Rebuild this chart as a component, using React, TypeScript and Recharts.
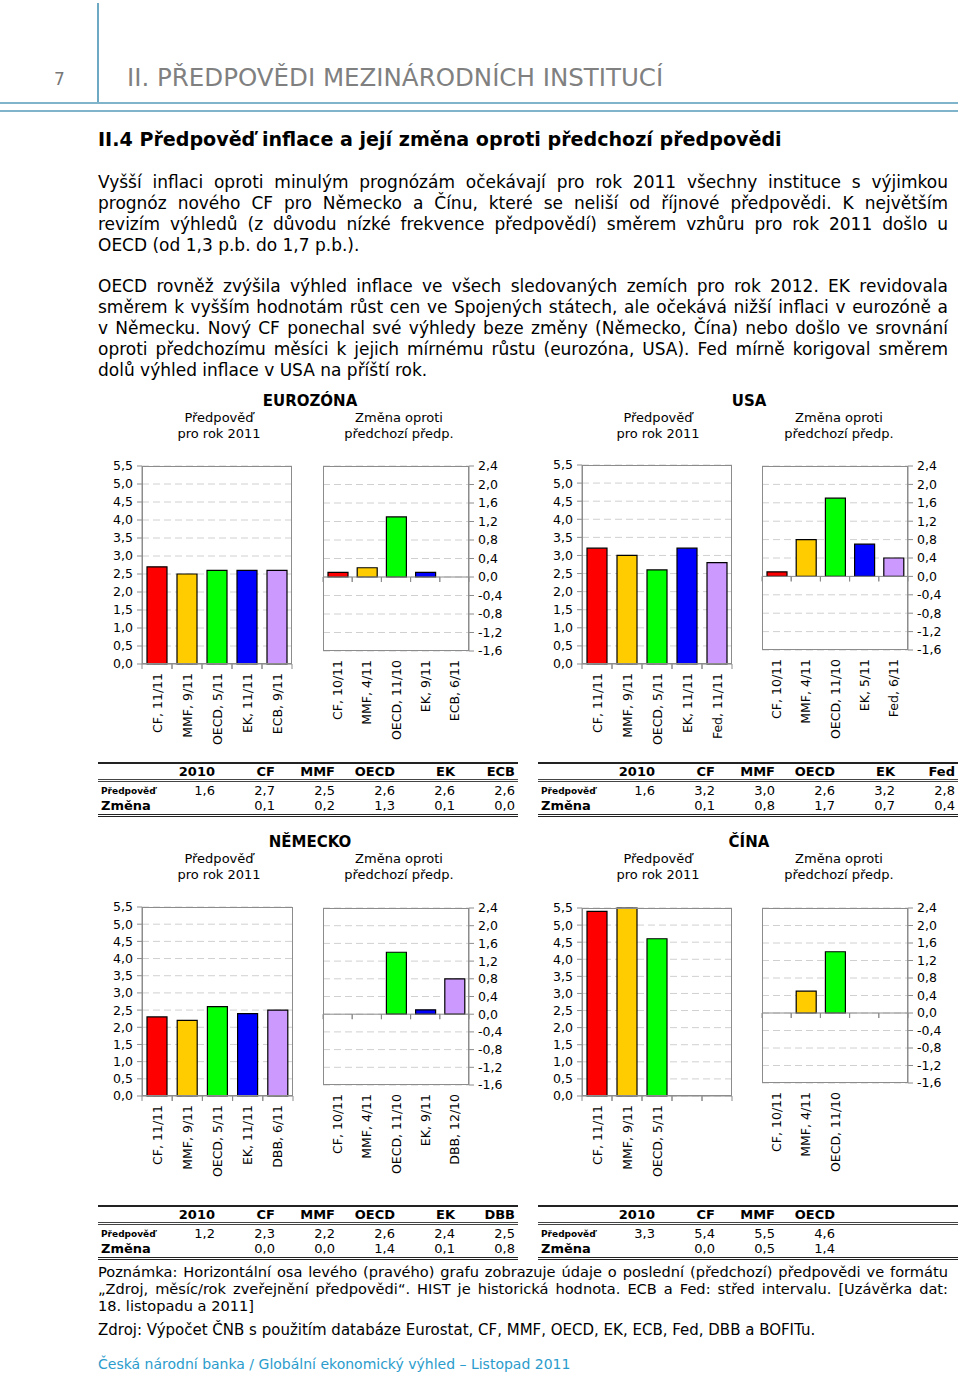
import { BarChart, Bar, XAxis, YAxis, CartesianGrid, ReferenceLine, Cell } from 'recharts';

// bar colours in institution order
const barColors = ['#ff0000', '#ffcc00', '#00ff00', '#0000ff', '#cc99ff'];

const levelTicks = [0, 0.5, 1, 1.5, 2, 2.5, 3, 3.5, 4, 4.5, 5, 5.5];
const changeTicks = [-1.6, -1.2, -0.8, -0.4, 0, 0.4, 0.8, 1.2, 1.6, 2.0, 2.4];

// Eurozóna
const ezInst = ['CF', 'MMF', 'OECD', 'EK', 'ECB'];
const ezHist = 1.6;
const ezLevelLabels = ['CF, 11/11', 'MMF, 9/11', 'OECD, 5/11', 'EK, 11/11', 'ECB, 9/11'];
const ezLevel = [2.7, 2.5, 2.6, 2.6, 2.6];
const ezChangeLabels = ['CF, 10/11', 'MMF, 4/11', 'OECD, 11/10', 'EK, 9/11', 'ECB, 6/11'];
const ezChange = [0.1, 0.2, 1.3, 0.1, 0.0];

// USA
const usInst = ['CF', 'MMF', 'OECD', 'EK', 'Fed'];
const usHist = 1.6;
const usLevelLabels = ['CF, 11/11', 'MMF, 9/11', 'OECD, 5/11', 'EK, 11/11', 'Fed, 11/11'];
const usLevel = [3.2, 3.0, 2.6, 3.2, 2.8];
const usChangeLabels = ['CF, 10/11', 'MMF, 4/11', 'OECD, 11/10', 'EK, 5/11', 'Fed, 6/11'];
const usChange = [0.1, 0.8, 1.7, 0.7, 0.4];

// Německo
const deInst = ['CF', 'MMF', 'OECD', 'EK', 'DBB'];
const deHist = 1.2;
const deLevelLabels = ['CF, 11/11', 'MMF, 9/11', 'OECD, 5/11', 'EK, 11/11', 'DBB, 6/11'];
const deLevel = [2.3, 2.2, 2.6, 2.4, 2.5];
const deChangeLabels = ['CF, 10/11', 'MMF, 4/11', 'OECD, 11/10', 'EK, 9/11', 'DBB, 12/10'];
const deChange = [0.0, 0.0, 1.4, 0.1, 0.8];

// Čína
const cnInst = ['CF', 'MMF', 'OECD', '', ''];
const cnHist = 3.3;
const cnLevelLabels = ['CF, 11/11', 'MMF, 9/11', 'OECD, 5/11', '', ''];
const cnLevel = [5.4, 5.5, 4.6, null, null];
const cnChangeLabels = ['CF, 10/11', 'MMF, 4/11', 'OECD, 11/10', '', ''];
const cnChange = [0.0, 0.5, 1.4, null, null];

const fmt = (v: number | null) => (v === null || v === undefined ? '' : v.toFixed(1).replace('.', ','));

const FONT = '"DejaVu Sans", Verdana, sans-serif';
const AXIS = '#8c8c8c';

const CatTick = (props: any) => {
  const { x, y, payload, band, lineY } = props;
  return (
    <g>
      <line x1={x - band / 2} x2={x - band / 2} y1={lineY} y2={lineY + 5} stroke={AXIS} />
      <line x1={x + band / 2} x2={x + band / 2} y1={lineY} y2={lineY + 5} stroke={AXIS} />
      <text
        transform={`translate(${x},${y + 9}) rotate(-90)`}
        textAnchor="end"
        dy="0.36em"
        fontSize={12.5}
        fontFamily={FONT}
        fill="#000"
      >
        {payload.value}
      </text>
    </g>
  );
};

interface MiniProps {
  kind: 'level' | 'change';
  x: number;
  y: number;
  w: number;
  h: number;
  labels: string[];
  values: (number | null)[];
}

const MiniChart = ({ kind, x, y, w, h, labels, values }: MiniProps) => {
  const data = labels.map((name, i) => ({ name, value: values[i] }));
  const isLevel = kind === 'level';
  const top = 10;
  const side = 50;
  const chartW = w + side + 10;
  const chartH = h + top + 90;
  const band = w / labels.length;
  const lineY = isLevel ? top + h : top + h * (2.4 / 4.0);
  return (
    <div style={{ position: 'absolute', left: isLevel ? x - side : x - 10, top: y - top }}>
      <BarChart
        width={chartW}
        height={chartH}
        data={data}
        margin={isLevel ? { top, right: 10, bottom: 0, left: 0 } : { top, right: 0, bottom: 0, left: 10 }}
      >
        <CartesianGrid vertical={false} stroke="#d0d0d0" strokeDasharray="7 4" />
        <XAxis
          dataKey="name"
          height={90}
          interval={0}
          tickSize={0}
          tickMargin={0}
          tickLine={false}
          axisLine={isLevel ? { stroke: AXIS } : false}
          tick={(p: any) => <CatTick {...p} band={band} lineY={lineY} />}
        />
        <YAxis
          orientation={isLevel ? 'left' : 'right'}
          width={side}
          domain={isLevel ? [0, 5.5] : [-1.6, 2.4]}
          ticks={isLevel ? levelTicks : changeTicks}
          interval={0}
          tickSize={5}
          tickMargin={4}
          axisLine={{ stroke: AXIS }}
          tickLine={{ stroke: AXIS }}
          tickFormatter={(v: number) => fmt(v)}
          tick={{ fontSize: 12.5, fill: '#000', fontFamily: FONT }}
        />
        {!isLevel && <ReferenceLine y={0} stroke={AXIS} />}
        <Bar dataKey="value" barSize={20} stroke="#000" strokeWidth={1.2} isAnimationActive={false}>
          {data.map((_, i) => (
            <Cell key={i} fill={barColors[i]} />
          ))}
        </Bar>
      </BarChart>
      <div
        style={{
          position: 'absolute',
          left: isLevel ? side : 10,
          top,
          width: w,
          height: h,
          border: `1px solid ${AXIS}`,
          boxSizing: 'border-box',
          pointerEvents: 'none',
        }}
      />
    </div>
  );
};

interface HeadProps {
  title: string;
  cx: number;
  ty: number;
  lx: number;
  rx: number;
}

const Heads = ({ title, cx, ty, lx, rx }: HeadProps) => {
  const c = (left: number, top: number, text: string, style: any = {}) => (
    <div
      style={{
        position: 'absolute',
        left: left - 150,
        top,
        width: 300,
        textAlign: 'center',
        fontSize: 13,
        lineHeight: '16px',
        ...style,
      }}
    >
      {text}
    </div>
  );
  return (
    <>
      {c(cx, ty - 8, title, { fontWeight: 'bold', fontSize: 15, lineHeight: '18px' })}
      {c(lx, ty + 10, 'Předpověď')}
      {c(lx, ty + 26, 'pro rok 2011')}
      {c(rx, ty + 10, 'Změna oproti')}
      {c(rx, ty + 26, 'předchozí předp.')}
    </>
  );
};

interface TableProps {
  x: number;
  y: number;
  inst: string[];
  hist: number;
  level: (number | null)[];
  change: (number | null)[];
}

const DataTable = ({ x, y, inst, hist, level, change }: TableProps) => {
  const cols = '58px repeat(6, 60px)';
  const cell = { textAlign: 'right' as const, paddingRight: 1 };
  return (
    <div style={{ position: 'absolute', left: x, top: y, width: 420, fontSize: 13 }}>
      <div
        style={{
          display: 'grid',
          gridTemplateColumns: cols,
          borderTop: '2px solid #222',
          borderBottom: '3px double #444',
          height: 15,
          lineHeight: '15px',
          fontWeight: 'bold',
        }}
      >
        <div />
        {['2010', ...inst].map((t, i) => (
          <div key={i} style={cell}>
            {t}
          </div>
        ))}
      </div>
      <div style={{ display: 'grid', gridTemplateColumns: cols, height: 16, lineHeight: '18px' }}>
        <div style={{ fontSize: 9, fontWeight: 'bold', paddingLeft: 3 }}>Předpověď</div>
        {[hist, ...level].map((v, i) => (
          <div key={i} style={cell}>
            {fmt(v)}
          </div>
        ))}
      </div>
      <div
        style={{
          display: 'grid',
          gridTemplateColumns: cols,
          height: 16,
          lineHeight: '16px',
          borderBottom: '3px double #222',
        }}
      >
        <div style={{ fontWeight: 'bold', paddingLeft: 3 }}>Změna</div>
        {[null, ...change].map((v, i) => (
          <div key={i} style={cell}>
            {fmt(v)}
          </div>
        ))}
      </div>
    </div>
  );
};

const para1 = [
  'Vyšší inflaci oproti minulým prognózám očekávají pro rok 2011 všechny instituce s výjimkou',
  'prognóz nového CF pro Německo a Čínu, které se neliší od říjnové předpovědi. K největším',
  'revizím výhledů (z důvodu nízké frekvence předpovědí) směrem vzhůru pro rok 2011 došlo u',
  'OECD (od 1,3 p.b. do 1,7 p.b.).',
];
const para2 = [
  'OECD rovněž zvýšila výhled inflace ve všech sledovaných zemích pro rok 2012. EK revidovala',
  'směrem k vyšším hodnotám růst cen ve Spojených státech, ale očekává nižší inflaci v eurozóně a',
  'v Německu. Nový CF ponechal své výhledy beze změny (Německo, Čína) nebo došlo ve srovnání',
  'oproti předchozímu měsíci k jejich mírnému růstu (eurozóna, USA). Fed mírně korigoval směrem',
  'dolů výhled inflace v USA na příští rok.',
];
const note = [
  'Poznámka: Horizontální osa levého (pravého) grafu zobrazuje údaje o poslední (předchozí) předpovědi ve formátu',
  '„Zdroj, měsíc/rok zveřejnění předpovědi“. HIST je historická hodnota. ECB a Fed: střed intervalu. [Uzávěrka dat:',
  '18. listopadu a 2011]',
];

const Lines = ({ lines, top, lh, size }: { lines: string[]; top: number; lh: number; size: number }) => (
  <div style={{ position: 'absolute', left: 98, top, width: 850, fontSize: size, lineHeight: `${lh}px` }}>
    {lines.map((t, i) => (
      <div
        key={i}
        style={{
          textAlign: 'justify',
          textAlignLast: i < lines.length - 1 ? 'justify' : 'left',
          whiteSpace: 'nowrap',
        }}
      >
        {t}
      </div>
    ))}
  </div>
);

export default function App() {
  return (
    <div
      style={{
        position: 'absolute',
        left: 0,
        top: 0,
        width: 960,
        height: 1377,
        background: '#fff',
        fontFamily: FONT,
        color: '#000',
        overflow: 'hidden',
      }}
    >
      {/* page header */}
      <div style={{ position: 'absolute', left: 97, top: 3, width: 2, height: 100, background: '#6ea9c4' }} />
      <div style={{ position: 'absolute', left: 0, top: 102, width: 958, height: 2, background: '#7fb4cb' }} />
      <div style={{ position: 'absolute', left: 0, top: 110, width: 958, height: 2, background: '#7fb4cb' }} />
      <div style={{ position: 'absolute', left: 54, top: 68, fontSize: 17, color: '#777', lineHeight: '22px' }}>7</div>
      <div style={{ position: 'absolute', left: 127, top: 64, fontSize: 24.5, color: '#808080', lineHeight: '28px' }}>
        II. PŘEDPOVĚDI MEZINÁRODNÍCH INSTITUCÍ
      </div>

      <div style={{ position: 'absolute', left: 98, top: 128, fontSize: 19.1, fontWeight: 'bold', lineHeight: '24px' }}>
        II.4 Předpověď inflace a její změna oproti předchozí předpovědi
      </div>

      <Lines lines={para1} top={172} lh={21} size={17} />
      <Lines lines={para2} top={276} lh={21} size={17} />

      {/* Eurozóna, USA */}
      <Heads title="EUROZÓNA" cx={310} ty={400} lx={219} rx={399} />
      <MiniChart kind="level" x={142} y={466} w={150} h={198} labels={ezLevelLabels} values={ezLevel} />
      <MiniChart kind="change" x={323} y={466} w={146} h={185} labels={ezChangeLabels} values={ezChange} />
      <Heads title="USA" cx={749} ty={400} lx={658} rx={839} />
      <MiniChart kind="level" x={582} y={465} w={150} h={199} labels={usLevelLabels} values={usLevel} />
      <MiniChart kind="change" x={762} y={466} w={146} h={184} labels={usChangeLabels} values={usChange} />

      <DataTable x={98} y={762} inst={ezInst} hist={ezHist} level={ezLevel} change={ezChange} />
      <DataTable x={538} y={762} inst={usInst} hist={usHist} level={usLevel} change={usChange} />

      {/* Německo, Čína */}
      <Heads title="NĚMECKO" cx={310} ty={841} lx={219} rx={399} />
      <MiniChart kind="level" x={142} y={907} w={151} h={189} labels={deLevelLabels} values={deLevel} />
      <MiniChart kind="change" x={323} y={908} w={146} h={177} labels={deChangeLabels} values={deChange} />
      <Heads title="ČÍNA" cx={749} ty={841} lx={658} rx={839} />
      <MiniChart kind="level" x={582} y={908} w={150} h={188} labels={cnLevelLabels} values={cnLevel} />
      <MiniChart kind="change" x={762} y={908} w={146} h={175} labels={cnChangeLabels} values={cnChange} />

      <DataTable x={98} y={1205} inst={deInst} hist={deHist} level={deLevel} change={deChange} />
      <DataTable x={538} y={1205} inst={cnInst} hist={cnHist} level={cnLevel} change={cnChange} />

      <Lines lines={note} top={1263} lh={17} size={14.6} />
      <div style={{ position: 'absolute', left: 98, top: 1321, fontSize: 15, lineHeight: '18px' }}>
        Zdroj: Výpočet ČNB s použitím databáze Eurostat, CF, MMF, OECD, EK, ECB, Fed, DBB a BOFITu.
      </div>
      <div style={{ position: 'absolute', left: 98, top: 1355, fontSize: 14, lineHeight: '18px', color: '#2b9ccc' }}>
        Česká národní banka / Globální ekonomický výhled – Listopad 2011
      </div>
    </div>
  );
}
